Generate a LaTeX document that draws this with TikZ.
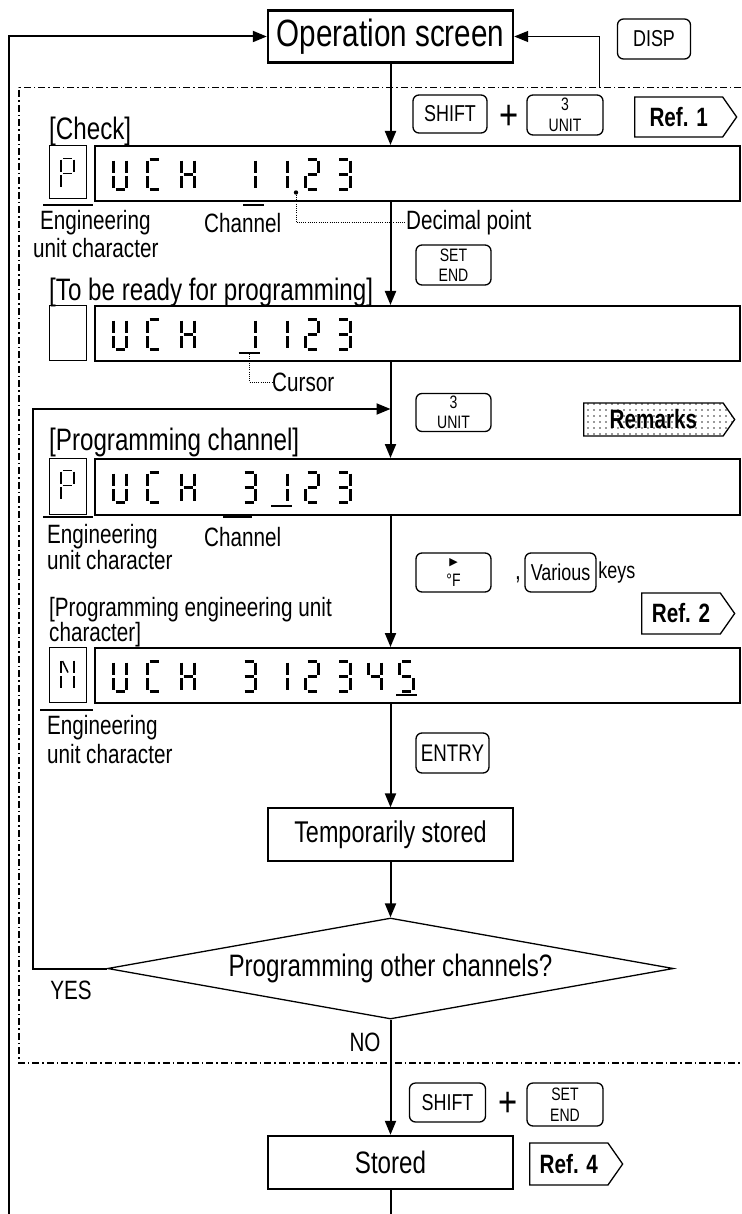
\documentclass[tikz,border=0pt]{standalone}
\usepackage{fontspec}
\setmainfont{Liberation Sans}[FakeStretch=0.78]
\setsansfont{Liberation Sans}[FakeStretch=0.78]
\newfontfamily\symfont{DejaVu Sans}
\usetikzlibrary{arrows.meta,shapes.geometric,shapes.symbols,patterns.meta}
\newlength{\KeyWidth}
\newlength{\KeyHeight}
\newlength{\SegWidth}
\setlength{\KeyWidth}{75pt}
\setlength{\KeyHeight}{39pt}
\setlength{\SegWidth}{2.7pt}
\newcommand{\PxFont}[2]{\fontsize{#1}{#2}\selectfont}
\newcommand{\SegU}{b,c,d,e,f}
\newcommand{\SegC}{a,d,e,f}
\newcommand{\SegH}{b,c,e,f,g}
\newcommand{\SegP}{a,b,e,f,g}
\newcommand{\SegN}{b,c,e,f,n}
\newcommand{\SegOne}{b,c}
\newcommand{\SegTwo}{a,b,g,e,d}
\newcommand{\SegThree}{a,b,g,c,d}
\newcommand{\SegFour}{f,g,b,c}
\newcommand{\SegFive}{a,f,g,c,d}
\newcommand{\SegGlyph}[4][]{%
  \begin{scope}[shift={(#2,#3)}]
    \edef\seglist{#4}%
    \foreach \sg in \seglist {
      \if\sg a\draw[seg line,#1] (3.5,1.3) -- (12.5,1.3);\fi
      \if\sg b\draw[seg line,#1] (14.7,2.6) -- (14.7,15);\fi
      \if\sg c\draw[seg line,#1] (14.7,18) -- (14.7,30.4);\fi
      \if\sg d\draw[seg line,#1] (3.5,31.7) -- (12.5,31.7);\fi
      \if\sg e\draw[seg line,#1] (1.3,18) -- (1.3,30.4);\fi
      \if\sg f\draw[seg line,#1] (1.3,2.6) -- (1.3,15);\fi
      \if\sg g\draw[seg line,#1] (3.5,16.5) -- (12.5,16.5);\fi
      \if\sg n\draw[seg line,#1] (3,3) -- (8.5,14.5);\fi
    }
  \end{scope}%
}
\tikzset{
  flow/.style={line width=2pt},
  thin flow/.style={line width=1.4pt},
  frame line/.style={line width=1.3pt, dash pattern=on 7pt off 3pt on 1.5pt off 3pt},
  leader/.style={line width=1pt, dash pattern=on 1pt off 1.2pt},
  mark line/.style={line width=2.2pt},
  seg line/.style={line width=\SegWidth, line cap=butt},
  main box/.style={draw, rectangle, line width=2.4pt, minimum width=245pt, minimum height=52pt, inner sep=0pt},
  display box/.style={draw, rectangle, line width=2.4pt, minimum width=645pt, minimum height=55pt, inner sep=0pt, anchor=north west},
  unit box/.style={draw, rectangle, line width=1.2pt, minimum width=36.5pt, minimum height=53pt, inner sep=0pt, anchor=north west},
  key box/.style={draw, rectangle, rounded corners=6pt, line width=1.3pt, minimum width=\KeyWidth, minimum height=\KeyHeight, inner sep=0pt, align=center, font=\PxFont{23}{24}},
  stack key/.style={key box, font=\PxFont{18}{20.5}},
  ref tag/.style={draw, shape=signal, signal to=east, signal pointer angle=110, line width=1.3pt, minimum height=40pt, inner sep=0pt, anchor=west, font=\PxFont{26.5}{27}\bfseries},
  decision/.style={draw, diamond, aspect=5.6, line width=1.3pt, minimum width=566pt, minimum height=101pt, inner sep=0pt, font=\PxFont{31}{33}},
  label text/.style={draw=none, inner sep=0pt, anchor=west, font=\PxFont{26.5}{28}},
  head text/.style={draw=none, inner sep=0pt, anchor=west, font=\PxFont{31}{33}},
  plus text/.style={draw=none, inner sep=0pt, font=\PxFont{42}{42}}
}

\begin{document}
\begin{tikzpicture}[x=1pt, y=-1pt, >={Triangle[length=14pt,width=11pt]}]
  \useasboundingbox (0,0) rectangle (741,1214);

  \draw[frame line] (741,87.3) -| (19,1063) -- (741,1063);

  \node[main box, font=\PxFont{38}{40}] (opscr) at (390.5,36.5) {Operation screen};
  \node[key box, minimum width=73pt, minimum height=40pt] (dispkey) at (654,39) {DISP};

  % check
  \node[key box, minimum width=74pt, minimum height=38pt] (shift1) at (450,114) {SHIFT};
  \node[plus text] (plus1) at (509.5,117) {+};
  \node[stack key, minimum width=76pt, minimum height=40pt] (unit1) at (565,115) {3\\UNIT};
  \node[ref tag, minimum width=102pt] (ref1) at (634,117) {Ref. 1};
  \node[head text] (checklbl) at (49,131) {[Check]};
  \node[unit box] (ubox1) at (49,145) {};
  \node[display box] (disp1) at (94,145) {};
  \node[label text] (eng1) at (40,223) {Engineering};
  \node[label text] (unitc1) at (33,248) {unit character};
  \node[label text] (chan1) at (204,223) {Channel};
  \node[label text] (declbl) at (406,223) {Decimal point};
  \node[draw=none, circle, fill, inner sep=0pt, minimum size=4.4pt] (dp) at (296,192.5) {};

  % ready for programming
  \node[stack key, minimum height=40pt] (setend1) at (453.5,265) {SET\\END};
  \node[head text] (readylbl) at (49,292) {[To be ready for programming]};
  \node[unit box, minimum height=55pt] (ubox2) at (49,305) {};
  \node[display box] (disp2) at (94,305) {};
  \coordinate (cur2) at (249,354);
  \node[label text] (cursorlbl) at (272,382) {Cursor};

  % programming channel
  \node[stack key, minimum height=38pt] (unit2) at (453.5,412.5) {3\\UNIT};
  \node[ref tag, minimum width=151pt, minimum height=33pt, pattern={Dots[distance=6pt,radius=0.8pt]}, pattern color=black!80] (remarks) at (583,419.5) {Remarks};
  \node[head text] (chanlbl) at (49,442) {[Programming channel]};
  \node[unit box, minimum height=56pt] (ubox3) at (49,458) {};
  \node[display box, minimum height=56pt] (disp3) at (94,458) {};
  \node[label text] (eng3) at (47,537) {Engineering};
  \node[label text] (unitc3) at (47,560) {unit character};
  \node[label text] (chan3) at (204,537) {Channel};

  % programming engineering unit character
  \node[stack key] (fkey) at (453.5,572.5) {{\symfont\PxFont{11}{11}▶}\\°F};
  \node[draw=none, inner sep=0pt, font=\PxFont{26.5}{27}] (comma) at (518,580) {,};
  \node[key box, minimum width=71pt] (various) at (560.5,572.5) {Various};
  \node[label text, font=\PxFont{23}{24}] (keyslbl) at ([xshift=1.5pt]various.east) {keys};
  \node[ref tag, minimum width=93pt, minimum height=41pt] (ref2) at (641,613.5) {Ref. 2};
  \node[draw=none, inner sep=0pt, anchor=west, align=left, font=\PxFont{26.5}{21}] (unitlbl) at (49,622) {[Programming engineering unit\\character]};
  \node[unit box, minimum height=55pt] (ubox4) at (49,647) {};
  \node[display box] (disp4) at (94,647) {};
  \node[label text] (eng4) at (47,728) {Engineering};
  \node[label text] (unitc4) at (47,754) {unit character};
  \node[key box, minimum width=73pt, minimum height=40pt, font=\PxFont{24}{24}] (entry) at (452.5,753) {ENTRY};

  \node[main box, line width=1.3pt, minimum height=53pt, font=\PxFont{30}{32}] (temp) at (390.5,834.5) {Temporarily stored};
  \node[decision] (ask) at (390.5,968.5) {Programming other channels?};
  \node[draw=none, inner sep=0pt, font=\PxFont{26.5}{27}] (yeslbl) at (71,990) {YES};
  \node[draw=none, inner sep=0pt, font=\PxFont{26.5}{27}] (nolbl) at (365,1042) {NO};
  \coordinate (yesturn) at (33,409);

  % store
  \node[key box, minimum width=76pt] (shift2) at (447.5,1102.5) {SHIFT};
  \node[plus text] (plus2) at (508,1104) {+};
  \node[stack key, minimum width=76pt, minimum height=43pt] (setend2) at (565,1104.5) {SET\\END};
  \node[main box, minimum height=53pt, font=\PxFont{31}{33}] (stored) at (390.5,1162.5) {Stored};
  \node[ref tag, minimum width=93pt, minimum height=42pt] (ref4) at (529,1164) {Ref. 4};
  \coordinate (loopbot) at (8.5,1214);
  \coordinate (disptap) at (599.5,87.3);

  % display characters
  \foreach \gy in {158,318,471,660} {
    \SegGlyph{112}{\gy}{\SegU}
    \SegGlyph{146}{\gy}{\SegC}
    \SegGlyph{180}{\gy}{\SegH}
  }
  \foreach \k/\segs in {0/\SegOne,1/\SegOne,2/\SegTwo,3/\SegThree}
    {\SegGlyph{241+31.5*\k}{158}{\segs}}
  \foreach \k/\segs in {0/\SegOne,1/\SegOne,2/\SegTwo,3/\SegThree}
    {\SegGlyph{241+31.5*\k}{318}{\segs}}
  \foreach \k/\segs in {0/\SegThree,1/\SegOne,2/\SegTwo,3/\SegThree}
    {\SegGlyph{241+31.5*\k}{471}{\segs}}
  \foreach \k/\segs in {0/\SegThree,1/\SegOne,2/\SegTwo,3/\SegThree,4/\SegFour,5/\SegFive}
    {\SegGlyph{241+31.5*\k}{660}{\segs}}
  \SegGlyph[line width=1.5pt]{59.5}{157}{\SegP}
  \SegGlyph[line width=1.5pt]{59.5}{469}{\SegP}
  \SegGlyph[line width=1.5pt]{59.5}{658}{\SegN}

  % cursors and marks
  \draw[mark line] (238.5,353) -- (259.5,353);
  \draw[mark line] (271,506) -- (292,506);
  \draw[mark line] (396,695) -- (417,695);
  \draw[mark line] (43,205) -- (93,205);
  \draw[mark line] (243,205) -- (264,205);
  \draw[mark line] (43,517) -- (93,517);
  \draw[mark line] (223,517) -- (252,517);
  \draw[mark line] (40,710) -- (93,710);

  \draw[leader] (dp.south) |- (declbl.west);
  \draw[leader] (cur2) |- (cursorlbl.west);

  % flow
  \draw[flow, ->] (loopbot) |- (opscr.west);
  \draw[thin flow, ->] (disptap) |- (opscr.east);
  \draw[flow, ->] (opscr.south) -- (opscr.south |- disp1.north);
  \draw[flow, ->] (opscr.south |- disp1.south) -- (opscr.south |- disp2.north);
  \draw[flow, ->] (opscr.south |- disp2.south) -- (opscr.south |- disp3.north);
  \draw[flow, ->] (opscr.south |- disp3.south) -- (opscr.south |- disp4.north);
  \draw[flow, ->] (opscr.south |- disp4.south) -- (temp.north);
  \draw[flow, ->] (temp.south) -- (ask.north);
  \draw[flow, ->] (ask.south) -- (stored.north);
  \draw[flow] (stored.south) -- (stored.south |- loopbot);
  \draw[flow, ->] (ask.west) -| (yesturn) -- (opscr.south |- yesturn);
\end{tikzpicture}
\end{document}
